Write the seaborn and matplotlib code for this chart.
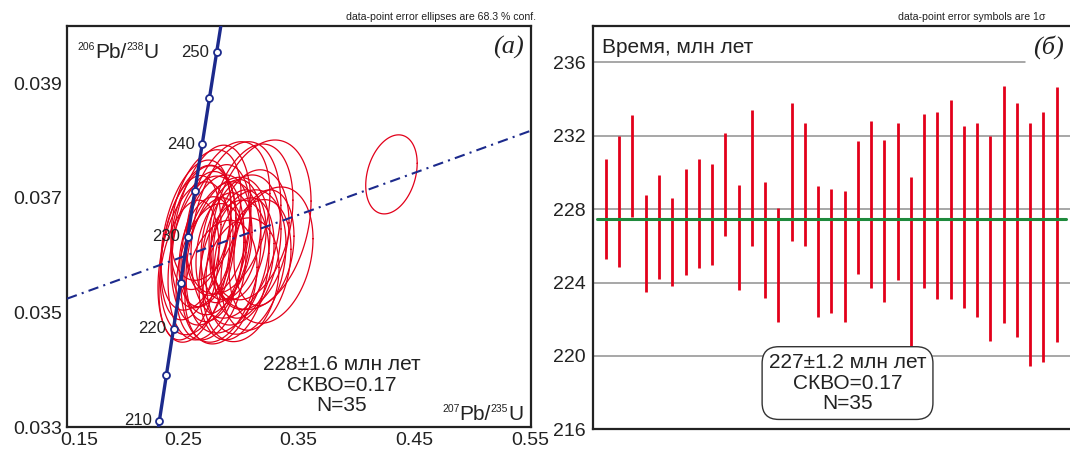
import matplotlib
matplotlib.use("Agg")
import numpy as np
import pandas as pd
import seaborn as sns
import matplotlib.pyplot as plt
from matplotlib.transforms import ScaledTranslation

sns.set_style("white")
plt.rcParams['font.family'] = ['Liberation Sans', 'DejaVu Sans']

# ---- panel (a): concordia diagram ----
conc_age = [205, 210, 215, 220, 225, 230, 235, 240, 245, 250, 255]
conc_x = [0.22372, 0.22976, 0.23583, 0.24193, 0.24806, 0.25422, 0.26041, 0.26664, 0.27289, 0.27917, 0.28549]
conc_y = [0.032312, 0.033113, 0.033914, 0.034717, 0.035519, 0.036323, 0.037127, 0.037932, 0.038737, 0.039543, 0.040350]
marker_ages = [210, 215, 220, 225, 230, 235, 240, 245, 250]
label_ages = [210, 220, 230, 240, 250]

# regression line end points
disc_x = [0.15, 0.55]
disc_y = [0.03524, 0.03817]

# error ellipses: centre x, centre y, half-extent x, half-extent y, correlation
ell_cx = [0.2743, 0.2958, 0.3174, 0.3261, 0.2631, 0.2596, 0.2700, 0.2829, 0.2889, 0.3002,
          0.2786, 0.2682, 0.2570, 0.3088, 0.3045, 0.2915, 0.2803, 0.2656, 0.2941, 0.2743,
          0.3131, 0.2855, 0.2976, 0.2700, 0.2613, 0.3088, 0.2889, 0.2769, 0.3028, 0.3200,
          0.2553, 0.2829, 0.3002, 0.2700, 0.4300]
ell_cy = [0.03635, 0.03644, 0.03653, 0.03600, 0.03609, 0.03588, 0.03595, 0.03588, 0.03600, 0.03609,
          0.03618, 0.03627, 0.03613, 0.03627, 0.03588, 0.03627, 0.03644, 0.03648, 0.03574, 0.03571,
          0.03583, 0.03613, 0.03618, 0.03606, 0.03635, 0.03658, 0.03665, 0.03592, 0.03595, 0.03613,
          0.03574, 0.03553, 0.03557, 0.03670, 0.03741]
ell_ax = [0.0345, 0.0388, 0.0432, 0.0362, 0.0328, 0.0311, 0.0328, 0.0345, 0.0362, 0.0345,
          0.0302, 0.0276, 0.0259, 0.0328, 0.0345, 0.0259, 0.0276, 0.0259, 0.0302, 0.0302,
          0.0302, 0.0242, 0.0242, 0.0233, 0.0302, 0.0362, 0.0362, 0.0259, 0.0259, 0.0259,
          0.0259, 0.0311, 0.0328, 0.0302, 0.0222]
ell_ay = [0.00157, 0.00154, 0.00148, 0.00119, 0.00148, 0.00140, 0.00143, 0.00140, 0.00136, 0.00131,
          0.00122, 0.00119, 0.00126, 0.00122, 0.00126, 0.00105, 0.00114, 0.00108, 0.00122, 0.00119,
          0.00114, 0.00096, 0.00096, 0.00096, 0.00131, 0.00136, 0.00133, 0.00108, 0.00105, 0.00101,
          0.00122, 0.00108, 0.00108, 0.00114, 0.00069]
ell_rho = [0.32, 0.28, 0.28, 0.24, 0.32, 0.32, 0.28, 0.28, 0.28, 0.28,
           0.28, 0.32, 0.32, 0.24, 0.24, 0.28, 0.28, 0.32, 0.24, 0.28,
           0.24, 0.28, 0.28, 0.28, 0.36, 0.28, 0.32, 0.28, 0.24, 0.20,
           0.32, 0.24, 0.20, 0.32, 0.28]

xticks_a = [0.15, 0.25, 0.35, 0.45, 0.55]
xticklabels_a = ['0.15', '0.25', '0.35', '0.45', '0.55']
yticks_a = [0.033, 0.035, 0.037, 0.039]
yticklabels_a = ['0.033', '0.035', '0.037', '0.039']

# ---- panel (б): ages with 1 sigma bars ----
age_hi = [230.76, 232.0, 233.12, 228.76, 229.85, 228.6, 230.18, 230.76, 230.45, 232.14,
          229.31, 233.41, 229.49, 228.04, 233.81, 232.72, 229.27, 229.09, 229.0, 231.72,
          232.78, 231.78, 232.69, 229.76, 233.18, 233.32, 233.94, 232.54, 232.72, 232.0,
          234.72, 233.76, 232.72, 233.32, 234.67]
age_lo = [225.28, 224.86, 227.55, 223.46, 224.22, 223.79, 224.4, 224.77, 224.95, 226.55,
          223.59, 226.0, 223.13, 221.83, 226.27, 226.0, 222.13, 222.32, 221.86, 224.46,
          223.68, 222.95, 224.13, 220.55, 223.68, 223.1, 223.1, 222.59, 222.13, 220.82,
          221.77, 221.01, 219.46, 219.68, 220.74]
mean_age = 227.45
yticks_b = [216, 220, 224, 228, 232, 236]

RED = '#e2001a'
NAVY = '#1c2a8c'
GREEN = '#1e8a3c'

W, H = 1070, 451
fig = plt.figure(figsize=(W / 100, H / 100), dpi=100)
ax1 = fig.add_axes([67 / W, 24 / H, 463.5 / W, 401 / H])
ax2 = fig.add_axes([592.7 / W, 21.7 / H, 477.3 / W, 403.6 / H])

# ellipses
t = np.linspace(0, 2 * np.pi, 120)
rows = []
for i in range(len(ell_cx)):
    ex = ell_cx[i] + ell_ax[i] * np.cos(t)
    ey = ell_cy[i] + ell_ay[i] * (ell_rho[i] * np.cos(t) + np.sqrt(1 - ell_rho[i] ** 2) * np.sin(t))
    rows.append(pd.DataFrame({'x': ex, 'y': ey, 'id': i}))
ell_df = pd.concat(rows)
sns.lineplot(data=ell_df, x='x', y='y', units='id', estimator=None, sort=False,
             color=RED, lw=0.9, ax=ax1, legend=False, zorder=2)

# regression line
ax1.plot(disc_x, disc_y, color=NAVY, lw=1.5, ls=(0, (5, 2.5, 1, 2.5)), zorder=3)

# concordia
conc = pd.DataFrame({'age': conc_age, 'x': conc_x, 'y': conc_y})
sns.lineplot(data=conc, x='x', y='y', sort=False, color=NAVY, lw=2.4, ax=ax1, zorder=4)
mk = conc[conc['age'].isin(marker_ages)]
ax1.plot(mk['x'], mk['y'], 'o', ms=5, mfc='white', mec=NAVY, mew=1.3, zorder=5)
for _, r in conc[conc['age'].isin(label_ages)].iterrows():
    ax1.annotate(str(int(r['age'])), (r['x'], r['y']), xytext=(-5.5, 0), textcoords='offset points',
                 ha='right', va='center', fontsize=12, color='#222222', zorder=6)

ax1.set_xlim(0.15, 0.55)
ax1.set_ylim(0.033, 0.040)
ax1.set_xticks(xticks_a)
ax1.set_xticklabels(xticklabels_a)
ax1.set_xticks([0.2, 0.3, 0.4, 0.5], minor=True)
ax1.set_yticks(yticks_a)
ax1.set_yticklabels(yticklabels_a)
ax1.set_yticks([0.034, 0.036, 0.038], minor=True)
ax1.set_xlabel('')
ax1.set_ylabel('')
ax1.tick_params(which='both', direction='in', labelsize=14, color='#222222', labelcolor='#222222')
ax1.tick_params(which='major', length=5, width=1, pad=3.6)
ax1.tick_params(which='minor', length=3, width=1)
lab0 = ax1.get_xticklabels()[0]
lab0.set_transform(lab0.get_transform() + ScaledTranslation(0.12, 0, fig.dpi_scale_trans))
for s in ax1.spines.values():
    s.set_linewidth(1.6)
    s.set_color('#222222')

ax1.text(0.3872, 0.03373, '228±1.6 млн лет\nСКВО=0.17\nN=35', ha='center', va='center',
         fontsize=15, linespacing=1.08, color='#222222')
ax1.text(0.5306, 0.03962, '(а)', ha='center', va='center', fontsize=19,
         family=['Liberation Serif', 'DejaVu Serif'], style='italic', color='#222222')

# ---- panel (б) ----
for g in [220, 224, 228, 232]:
    ax2.axhline(g, color='#909090', lw=1.1, zorder=1)
ax2.axhline(236, xmin=0, xmax=32.6 / 36, color='#909090', lw=1.1, zorder=1)
idx = np.arange(1, len(age_hi) + 1)
ax2.vlines(idx, age_lo, age_hi, color=RED, lw=2.0, zorder=2)
ax2.plot([0.3, 35.7], [mean_age, mean_age], color=GREEN, lw=2.2, zorder=3)
ax2.set_xlim(0, 36)
ax2.set_ylim(216, 238)
ax2.set_xticks([])
ax2.set_yticks(yticks_b)
ax2.set_yticks([218, 222, 226, 230, 234], minor=True)
ax2.tick_params(which='both', direction='in', labelsize=14, color='#222222', labelcolor='#222222')
ax2.tick_params(which='major', length=0, pad=5)
ax2.tick_params(which='minor', length=5, width=1)
for s in ax2.spines.values():
    s.set_linewidth(1.6)
    s.set_color('#222222')
ax2.spines['right'].set_visible(False)

ax2.text(0.7, 236.83, 'Время, млн лет', ha='left', va='center', fontsize=15, color='#222222')
ax2.text(34.34, 236.83, '(б)', ha='center', va='center', fontsize=19,
         family=['Liberation Serif', 'DejaVu Serif'], style='italic', color='#222222')
ax2.text(19.22, 218.52, '227±1.2 млн лет\nСКВО=0.17\nN=35', ha='center', va='center',
         fontsize=15, linespacing=1.08, color='#222222', zorder=5,
         bbox=dict(boxstyle='round,pad=0.32,rounding_size=0.8', fc='white', ec='#333333', lw=1.0))

fig.text(535.5 / W, 1 - 17 / H, 'data-point error ellipses are 68.3 % conf.', ha='right', va='center',
         fontsize=7.6, color='#222222')
fig.text(898 / W, 1 - 17 / H, 'data-point error symbols are 1σ', ha='left', va='center',
         fontsize=7.6, color='#222222')

# axis titles with small superscripts, built piece by piece
renderer = fig.canvas.get_renderer()


def iso_label(x, y, parts, ha):
    items = []
    for s, size, dy in parts:
        tx = fig.text(0, 0, s, fontsize=size, va='baseline', ha='left', color='#222222')
        items.append((tx, tx.get_window_extent(renderer).width, dy))
    total = sum(w for _, w, _ in items)
    x0 = x - total if ha == 'right' else x
    for tx, w, dy in items:
        tx.set_position((x0 / W, (y + dy) / H))
        x0 += w


iso_label(77.5, 393.5, [('206', 7.5, 7.5), ('Pb/', 15, 0), ('238', 7.5, 7.5), ('U', 15, 0)], 'left')
iso_label(523.4, 31.5, [('207', 7.5, 7.5), ('Pb/', 15, 0), ('235', 7.5, 7.5), ('U', 15, 0)], 'right')

fig.savefig('out.png', dpi=100)
